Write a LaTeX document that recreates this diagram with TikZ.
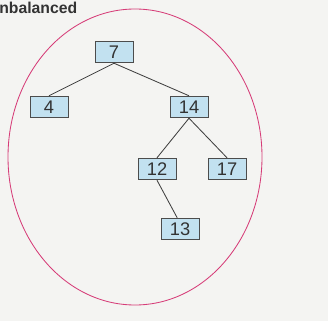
\documentclass[tikz,border=0pt]{standalone}
\usepackage{fontspec}
\setmainfont{Liberation Sans}
\usetikzlibrary{positioning}
\definecolor{keyfill}{RGB}{194,225,240}
\colorlet{keyedge}{black!70}
\definecolor{ringedge}{RGB}{214,60,120}
\definecolor{paper}{RGB}{244,244,242}

\begin{document}
\begin{tikzpicture}[x=0.025cm, y=-0.025cm,
      keybox/.style={draw=keyedge, fill=keyfill, semithick, text=black!80,
                   font=\fontsize{13}{15}\selectfont,
                   minimum width=0.95cm, minimum height=0.54cm, inner sep=0pt},
      edge/.style={draw=black!75, semithick},
      ring/.style={draw=ringedge, semithick}
    ]
    \fill[paper] (0,0) rectangle (328,321);
    \useasboundingbox (0,0) rectangle (328,321);
    \node[anchor=west, font=\fontsize{11.2}{13}\selectfont\bfseries, text=black!80,
          inner sep=0pt] (title) at (-1,8) {nbalanced};
    % the circled subtree
    \draw[ring] (135,157) ellipse [x radius=127, y radius=148];
    \node[keybox] (k7)  at (114,52)  {7};
    \node[keybox] (k4)  at (49,107)  {4};
    \node[keybox] (k14) at (189,107) {14};
    \node[keybox] (k12) at (157,169) {12};
    \node[keybox] (k17) at (227,169) {17};
    \node[keybox] (k13) at (180,229) {13};
    \foreach \a/\b in {k7/k4, k7/k14, k14/k12, k14/k17}
      \draw[edge] (\a.south) -- (\b.north);
    \draw[edge] (k12.south) -- ([xshift=-2pt]k13.north);
\end{tikzpicture}
\end{document}
